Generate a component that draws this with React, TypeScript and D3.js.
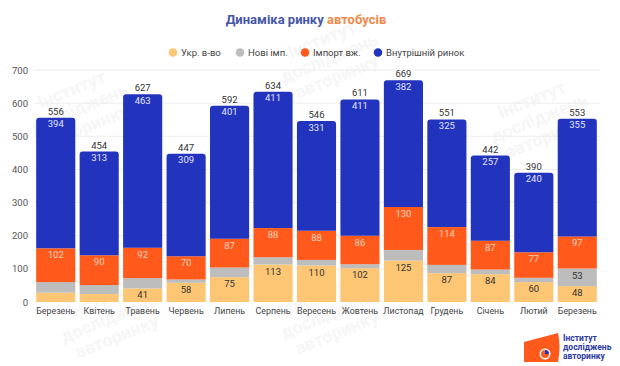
import React from "react";
import * as d3 from "d3";

const months = ["Березень","Квітень","Травень","Червень","Липень","Серпень","Вересень","Жовтень","Листопад","Грудень","Січень","Лютий","Березень"];
const ukr = [28, 24, 41, 58, 75, 113, 110, 102, 125, 87, 84, 60, 48];
const newImp = [32, 27, 31, 10, 29, 22, 17, 12, 32, 25, 14, 13, 53];
const usedImp = [102, 90, 92, 70, 87, 88, 88, 86, 130, 114, 87, 77, 97];
const domestic = [394, 313, 463, 309, 401, 411, 331, 411, 382, 325, 257, 240, 355];
const totals = [556, 454, 627, 447, 592, 634, 546, 611, 669, 551, 442, 390, 553];
const ukrLabeled = [false, false, true, true, true, true, true, true, true, true, true, true, true];
const newImpLabeled = [false, false, false, false, false, false, false, false, false, false, false, false, true];
const yTicks = [0, 100, 200, 300, 400, 500, 600, 700];
const legendNames = ["Укр. в-во", "Нові імп.", "Імпорт вж.", "Внутрішній ринок"];

const colors = ["#FDC675", "#BDBDBD", "#FF5A1C", "#2234BD"];
const font = "Roboto, 'Noto Sans', sans-serif";

export default function App() {
  const W = 620, H = 366;
  const x = d3.scaleBand<number>().domain(d3.range(months.length)).range([34, 599]).paddingInner(0.1).paddingOuter(0.05);
  const y = d3.scaleLinear().domain([0, 700]).range([302, 70]);
  const series = [ukr, newImp, usedImp, domestic];
  const stack = d3.stack<number>().keys(["0", "1", "2", "3"]).value((i, k) => series[+k][i]);
  const stacked = stack(d3.range(months.length));
  const bw = x.bandwidth();
  const r = 3;

  const legendX = [173, 240, 305, 378];

  const watermarks = [
    [80, 110], [330, 60], [540, 120], [110, 320], [330, 316], [460, 250]
  ];

  return (
    <svg width={W} height={H} style={{ position: "absolute", left: 0, top: 0, background: "#fff" }} fontFamily={font}>
      <rect x={0} y={0} width={W} height={H} fill="#fff" />
      {watermarks.map(([wx, wy], i) => (
        <g key={i} transform={`translate(${wx},${wy}) rotate(-22)`} fill="#f6f6f7" fontWeight="bold" fontSize={18}>
          <text x={0} y={-16} textAnchor="middle">Інститут</text>
          <text x={0} y={4} textAnchor="middle">досліджень</text>
          <text x={0} y={24} textAnchor="middle">авторинку</text>
        </g>
      ))}
      <text x={306} y={24} textAnchor="middle" fontSize={13} fontWeight="bold">
        <tspan fill="#4657A8">Динаміка ринку </tspan>
        <tspan fill="#EF8A4C">автобусів</tspan>
      </text>
      {legendNames.map((n, i) => (
        <g key={n}>
          <circle cx={legendX[i]} cy={52.5} r={4.3} fill={colors[i]} />
          <text x={legendX[i] + 8} y={55.8} fontSize={9.5} fill="#444">{n}</text>
        </g>
      ))}
      {yTicks.map((t) => (
        <g key={t}>
          {t > 0 && <line x1={34} x2={600} y1={y(t)} y2={y(t)} stroke="#ededed" strokeWidth={1} />}
          <text x={28} y={y(t) + 3.5} textAnchor="end" fontSize={9.5} fill="#555">{t}</text>
        </g>
      ))}
      {stacked.map((layer, li) => (
        <g key={li}>
          {layer.map((d, i) => {
            const x0 = x(i)!;
            const yTop = y(d[1]);
            const yBot = y(d[0]);
            if (li === 3) {
              const p = `M${x0},${yBot} L${x0},${yTop + r} Q${x0},${yTop} ${x0 + r},${yTop} L${x0 + bw - r},${yTop} Q${x0 + bw},${yTop} ${x0 + bw},${yTop + r} L${x0 + bw},${yBot} Z`;
              return <path key={i} d={p} fill={colors[li]} />;
            }
            return <rect key={i} x={x0} y={yTop} width={bw} height={yBot - yTop} fill={colors[li]} />;
          })}
        </g>
      ))}
      {months.map((m, i) => {
        const cx = x(i)! + bw / 2;
        const s = stacked;
        return (
          <g key={i} fontSize={9.5} textAnchor="middle">
            <text x={cx} y={y(totals[i]) - 3} fill="#333">{totals[i]}</text>
            <text x={cx} y={y(s[3][i][1]) + 9.5} fill="#E2E4FF">{domestic[i]}</text>
            <text x={cx} y={y(s[2][i][1]) + 10} fill="#FFD3BE">{usedImp[i]}</text>
            {newImpLabeled[i] && <text x={cx} y={y(s[1][i][1]) + 10} fill="#333">{newImp[i]}</text>}
            {ukrLabeled[i] && <text x={cx} y={y(s[0][i][1]) + 10} fill="#333">{ukr[i]}</text>}
            <text x={cx} y={314} fill="#444" fontSize={8.8}>{m}</text>
          </g>
        );
      })}
      <g>
        <path d="M524,342 L558,333 Q561,347 558,362 L524,362 Z" fill="#FF5A1C" />
        <circle cx={545} cy={354} r={5.5} fill="#fff" />
        <circle cx={545} cy={354} r={4} fill="#FF5A1C" />
        <path d="M545,354 L545,350 A4,4 0 0 1 549,354 Z" fill="#2234BD" />
        <g fontSize={8.5} fontWeight="bold" fill="#2B3BA0">
          <text x={563} y={341}>Інститут</text>
          <text x={563} y={350}>досліджень</text>
          <text x={563} y={359}>авторинку</text>
        </g>
      </g>
    </svg>
  );
}
